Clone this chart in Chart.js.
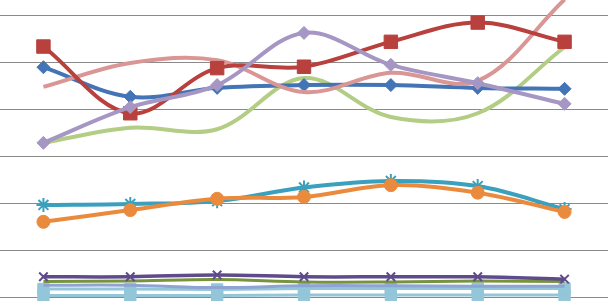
<!DOCTYPE html>
<html>
<head>
<meta charset="utf-8">
<script src="https://cdn.jsdelivr.net/npm/chart.js@4.4.1/dist/chart.umd.min.js"></script>
<style>
  html, body { margin: 0; padding: 0; background: #fff; }
  #wrap { width: 608px; height: 301px; }
</style>
</head>
<body>
<div id="wrap"><canvas id="chart"></canvas></div>
<script>
// categories (no labels shown in the picture)
const categories = ['1', '2', '3', '4', '5', '6', '7'];

// series values (gridlines every 10)
const blueSeries     = [48.9, 42.6, 44.5, 45.1, 45.1, 44.5, 44.3];
const redSeries      = [53.3, 39.1, 48.7, 49.0, 54.3, 58.4, 54.3];
const paleGreen      = [32.8, 36.0, 35.7, 46.6, 38.3, 39.1, 53.2];
const lavender       = [32.8, 40.4, 45.1, 56.2, 49.4, 45.5, 41.1];
const pinkSeries     = [44.7, 49.8, 50.4, 43.6, 47.7, 46.0, 63.3];
const orangeSeries   = [16.0, 18.5, 20.9, 21.3, 23.8, 22.2, 18.1];
const tealSeries     = [19.6, 19.8, 20.4, 23.3, 24.7, 23.6, 18.7];
const darkPurple     = [4.3, 4.3, 4.7, 4.3, 4.3, 4.3, 3.8];
const oliveSeries    = [3.3, 3.4, 3.7, 3.2, 3.2, 3.4, 3.3];
const periwinkle     = [2.5, 2.5, 2.0, 2.4, 2.4, 2.3, 2.3];
const lightBlueA     = [1.7, 1.7, 1.6, 1.8, 1.8, 1.8, 1.8];
const lightBlueB     = [0.3, 0.3, 0.3, 0.4, 0.4, 0.4, 0.4];

const yTicks = { min: 0, max: 63.2, step: 10 };

function series(data, color, style, radius, order, width) {
    return {
        data: data,
        borderColor: color,
        backgroundColor: color,
        pointBackgroundColor: color,
        pointBorderColor: color,
        pointStyle: style,
        pointRadius: radius,
        pointBorderWidth: style === 'star' || style === 'crossRot' ? 2 : 1,
        borderWidth: width || 4,
        tension: 0.35,
        order: order,
        clip: { left: 0, right: 0, top: 0, bottom: 6 }
    };
}

new Chart(document.getElementById('chart'), {
    type: 'line',
    data: {
        labels: categories,
        datasets: [
            series(lightBlueB, '#93c6d8', 'rect', 8, 12, 3),
            series(lightBlueA, '#93c6d8', 'rect', 8, 11, 3),
            series(periwinkle, '#8ea4d2', 'rect', 0, 10, 3),
            series(oliveSeries, '#77933c', 'triangle', 0, 9, 3),
            series(darkPurple, '#5f4b8b', 'crossRot', 6, 8, 3.5),
            series(tealSeries, '#3aa0bd', 'star', 7, 7),
            series(orangeSeries, '#ea8a3c', 'circle', 6.5, 6),
            series(paleGreen, '#b3cd85', 'triangle', 0, 5),
            series(blueSeries, '#4375b6', 'rectRot', 6.5, 4),
            series(pinkSeries, '#d99694', 'circle', 0, 3),
            series(redSeries, '#b8403d', 'rect', 9.5, 2),
            series(lavender, '#a596c4', 'rectRot', 6.5, 1)
        ]
    },
    options: {
        responsive: true,
        maintainAspectRatio: false,
        animation: false,
        layout: { autoPadding: false, padding: { top: 0, bottom: 4, left: 0, right: 0 } },
        plugins: {
            legend: { display: false },
            tooltip: { enabled: false }
        },
        scales: {
            x: {
                display: false,
                offset: true
            },
            y: {
                min: yTicks.min,
                max: yTicks.max,
                border: { display: false },
                grid: { color: '#8a8a8a', lineWidth: 1, drawTicks: false },
                ticks: { display: false, stepSize: yTicks.step, includeBounds: false },
                afterFit: s => { s.width = 0; }
            }
        }
    }
});
</script>
</body>
</html>
